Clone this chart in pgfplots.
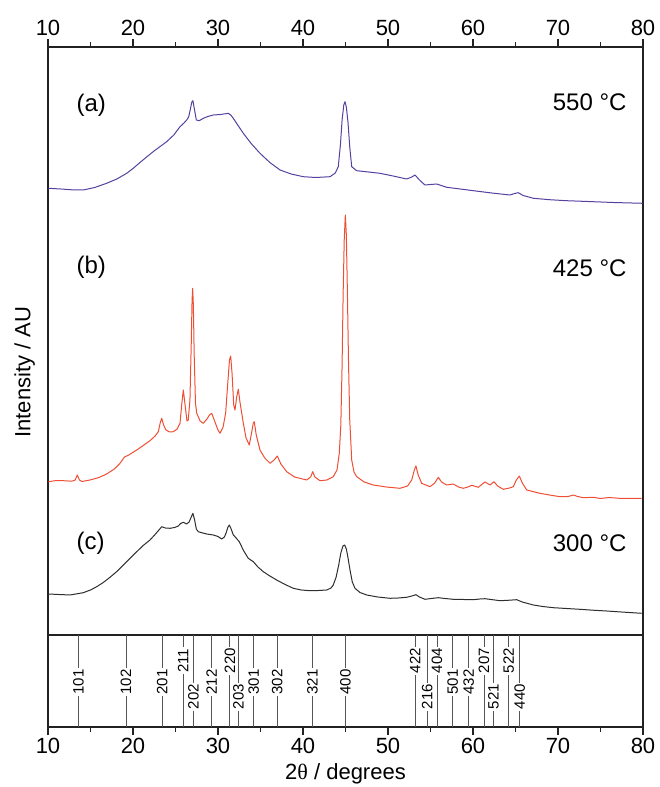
\documentclass[border=0pt]{standalone}
\usepackage{pgfplots}
\pgfplotsset{compat=1.18}
\usetikzlibrary{calc}
\usepackage{fontspec}
\setmainfont{Liberation Sans}
\newfontfamily\greekfont{Liberation Serif}

\definecolor{curveA}{HTML}{5640A0}
\definecolor{curveB}{HTML}{EE4E34}
\definecolor{curveC}{HTML}{2E2E2E}
\definecolor{frame}{HTML}{222222}
\definecolor{hklgray}{HTML}{555555}

\newcommand\tickfont{\fontsize{22}{26}\selectfont}
\newcommand\labfont{\fontsize{24}{28}\selectfont}
\newcommand\hklfont{\fontsize{15}{17}\selectfont}

\pgfplotsset{
  xrd/.style={
    scale only axis, width=595pt,
    xmin=10, xmax=80,
    xtick={10,20,...,80}, minor x tick num=1,
    ytick=\empty,
    tick align=outside,
    major tick length=8pt, minor tick length=4.5pt,
    axis line style={line width=1.2pt, frame},
    tick style={line width=1.2pt, frame},
    ticklabel style={font=\tickfont},
    /pgf/number format/assume math mode=true,
    label style={font=\tickfont},
  },
}
\tikzset{
  hkllab/.style={rotate=90, fill=white, inner sep=1.5pt, font=\hklfont},
  tlab/.style={font=\labfont},
}

\begin{document}
\begin{tikzpicture}
\begin{axis}[xrd, name=main, height=588pt, ymin=0, ymax=588,
  xtick pos=right, xticklabel pos=right,
  ylabel={Intensity / AU},
  ylabel style={at={(axis description cs:-0.039,0.447)}, anchor=center},
]
% (a) 550 C
\addplot[curveA, line width=1pt, line join=round] coordinates {
(10.04,446.7) (11.5,446) (12.8,445.2) (14.15,445) (15.5,447.5) (16.9,451.7) (18.1,456) (19.26,461.7)
(20.0,466.5) (20.82,472.5) (21.6,478) (22.4,483.5) (23.96,493.3) (24.8,500) (25.53,508.3) (26.0,512) (26.32,515)
(26.55,518) (26.75,526) (26.92,533) (27.05,534.3) (27.2,527) (27.45,515) (27.8,514.3) (28.27,516.7)
(28.8,518.5) (29.45,520) (30.3,520.5) (31.2,521.7) (31.5,520) (31.8,516.7) (32.4,509) (32.98,501.7)
(33.9,491.5) (34.94,481.7) (36.1,472.5) (37.3,465) (38.6,461) (40.04,458.3) (41.5,457.5) (43.18,458.3)
(43.8,462) (44.15,468.3) (44.4,490) (44.6,515) (44.8,530) (44.94,533.3) (45.1,528) (45.3,512)
(45.5,488) (45.73,468.3) (46.32,464.3) (47.7,463) (49.06,461.7) (50.6,459) (52.2,456) (52.8,458)
(53.18,460) (53.7,455) (54.35,450) (55.0,450.5) (55.73,451) (56.9,447.7) (58.5,446) (60.04,444.3)
(62.2,442) (64.35,440) (64.9,441.5) (65.33,442.3) (65.9,439.5) (67.1,436.7) (69.0,435.3) (71.0,434.3)
(73.5,433.5) (76.5,432.5) (79.96,431.7)
};
% (b) 425 C
\addplot[curveB, line width=1pt, line join=round] coordinates {
(10.04,153.3) (11.0,154.5) (11.8,154.3) (12.8,153.8) (13.2,155) (13.45,160) (13.7,155) (14.0,153.5)
(14.94,155) (16.0,157.5) (16.9,161) (17.8,166) (18.47,171.7) (19.0,178) (19.5,180) (20.44,185)
(21.2,189.5) (22.0,194.3) (22.6,199) (22.98,203.3) (23.2,212) (23.38,216.7) (23.6,210) (23.88,205)
(24.3,203) (24.74,203.3) (25.2,206) (25.53,211.7) (25.75,232) (25.92,245) (26.1,232) (26.35,214)
(26.5,215) (26.7,235) (26.85,290) (26.95,335) (27.02,346.7) (27.1,330) (27.2,280) (27.35,232)
(27.5,221.7) (27.9,214) (28.27,211.7) (28.7,216) (29.0,220) (29.26,221.7) (29.6,214) (30.0,205)
(30.24,201.7) (30.6,208) (30.9,222) (31.15,252) (31.35,275) (31.49,279) (31.65,262) (31.85,230)
(32.0,225) (32.2,238) (32.39,245.7) (32.6,232) (32.98,211.7) (33.3,197) (33.68,190) (33.95,202)
(34.15,212) (34.27,213.3) (34.5,200) (34.94,185) (35.5,177) (36.12,171.7) (36.6,175) (36.98,179)
(37.4,171) (38.08,163.3) (39.0,158) (40.44,155) (40.9,158) (41.14,163.3) (41.4,158) (42.0,154.3)
(42.8,155) (43.56,158.3) (44.0,165) (44.27,181.7) (44.45,210) (44.6,270) (44.72,340) (44.85,395)
(44.98,420) (45.1,400) (45.22,345) (45.35,275) (45.5,215) (45.73,175) (46.0,163) (46.32,158.3)
(47.2,153) (48.27,150) (49.8,148) (51.41,146.7) (52.3,149) (52.79,155) (53.1,165) (53.29,169)
(53.55,160) (53.96,151.7) (54.94,148.3) (55.5,152) (55.92,157.7) (56.3,153) (56.9,150) (57.68,151)
(58.3,148) (58.86,146.7) (59.4,148) (59.85,149.7) (60.62,147.7) (61.1,151) (61.41,153) (62.0,150)
(62.47,153.3) (62.9,149) (63.56,145.7) (64.3,147) (64.74,148.3) (65.1,155) (65.45,159) (65.8,152)
(66.32,145) (67.88,141.7) (69.0,140) (70.24,138.3) (71.2,138.5) (71.8,140) (72.3,138.5) (72.98,137.3)
(74.15,137.7) (75.0,136.5) (76.0,137.5) (77.5,136.5) (79.85,136.7)
};
% (c) 300 C
\addplot[curveC, line width=1pt, line join=round] coordinates {
(10.04,41) (11.3,40.5) (12.59,40) (14.15,42.3) (15.0,45) (15.73,48.3) (16.5,52.5) (17.29,57.7)
(18.1,63.5) (18.86,70) (19.65,76.7) (20.44,83.3) (21.2,89.5) (22.0,95) (22.7,101.5) (23.38,108.3)
(23.8,107) (24.35,106.7) (24.9,107.5) (25.33,109) (25.6,111.5) (25.92,112.7) (26.3,111) (26.6,113)
(26.85,118) (27.05,121.7) (27.25,115) (27.45,106) (27.68,103.3) (28.2,102) (28.67,101) (29.45,100)
(30.0,98.5) (30.44,96) (30.75,98) (30.94,101.7) (31.15,107.5) (31.33,110) (31.55,106) (31.8,100)
(32.0,98.3) (32.5,93.3) (33.0,84.5) (33.56,76.7) (34.15,73.3) (34.7,68) (35.33,63.3) (36.1,59)
(36.9,55) (37.9,50.5) (38.86,46.7) (39.8,45) (40.82,44.3) (41.8,44.5) (42.79,45) (43.3,47)
(43.56,50) (43.9,58) (44.2,70) (44.45,82) (44.7,89) (44.9,90) (45.1,86) (45.3,77)
(45.53,65) (45.8,53) (46.12,46.7) (46.7,42.5) (47.5,40) (48.8,38) (50.24,36.7) (51.2,37)
(52.2,37.7) (52.8,39) (53.29,40.3) (53.7,38) (54.35,35.7) (55.1,36.5) (55.92,37.3) (56.7,36.5)
(57.68,35.7) (58.9,35.5) (60.04,35.3) (60.8,36) (61.41,36.3) (62.3,35.3) (63.18,34.3) (64.3,34.8)
(65.14,35.3) (65.8,33) (67.1,30) (68.2,28.5) (69.45,27.3) (71.0,26.5) (72.59,25.7) (74.1,24.8)
(75.73,24) (77.8,22.8) (79.85,21.7)
};
\node[tlab, anchor=west] at (axis cs:12.94,530) {(a)};
\node[tlab, anchor=east] at (axis cs:78.47,533) {550 °C};
\node[tlab, anchor=west] at (axis cs:12.94,368) {(b)};
\node[tlab, anchor=east] at (axis cs:78.47,367) {425 °C};
\node[tlab, anchor=west] at (axis cs:12.94,92) {(c)};
\node[tlab, anchor=east] at (axis cs:78.47,92) {300 °C};
\end{axis}

\begin{axis}[xrd, name=hkl, at={(main.south west)}, anchor=north west,
  height=92pt, ymin=0, ymax=1,
  xtick pos=left, xticklabel pos=left,
  xlabel={2{\greekfont θ} / degrees},
  xlabel style={yshift=-3pt},
]
\addplot[ycomb, hklgray, line width=0.9pt] coordinates {
(13.57,1) (19.18,1) (23.45,1) (25.9,1) (27.1,1) (29.25,1) (31.4,1) (32.4,1) (34.2,1) (36.98,1)
(41.1,1) (45.0,1) (53.2,1) (54.6,1) (55.76,1) (57.6,1) (59.5,1) (61.3,1) (62.4,1) (64.2,1) (65.5,1)
};
\node[hkllab] at (axis cs:13.57,0.49) {101};
\node[hkllab] at (axis cs:19.18,0.49) {102};
\node[hkllab] at (axis cs:23.45,0.49) {201};
\node[hkllab] at (axis cs:25.9,0.72) {211};
\node[hkllab] at (axis cs:27.1,0.33) {202};
\node[hkllab] at (axis cs:29.25,0.49) {212};
\node[hkllab] at (axis cs:31.4,0.72) {220};
\node[hkllab] at (axis cs:32.4,0.33) {203};
\node[hkllab] at (axis cs:34.2,0.49) {301};
\node[hkllab] at (axis cs:36.98,0.49) {302};
\node[hkllab] at (axis cs:41.1,0.49) {321};
\node[hkllab] at (axis cs:45.0,0.49) {400};
\node[hkllab] at (axis cs:53.2,0.72) {422};
\node[hkllab] at (axis cs:54.6,0.33) {216};
\node[hkllab] at (axis cs:55.76,0.72) {404};
\node[hkllab] at (axis cs:57.6,0.49) {501};
\node[hkllab] at (axis cs:59.5,0.49) {432};
\node[hkllab] at (axis cs:61.3,0.72) {207};
\node[hkllab] at (axis cs:62.4,0.33) {521};
\node[hkllab] at (axis cs:64.2,0.72) {522};
\node[hkllab] at (axis cs:65.5,0.33) {440};
\end{axis}

\pgfresetboundingbox
\path ($(main.north west)+(-48pt,47pt)$) rectangle ($(hkl.south east)+(17pt,-60pt)$);
\end{tikzpicture}
\end{document}
